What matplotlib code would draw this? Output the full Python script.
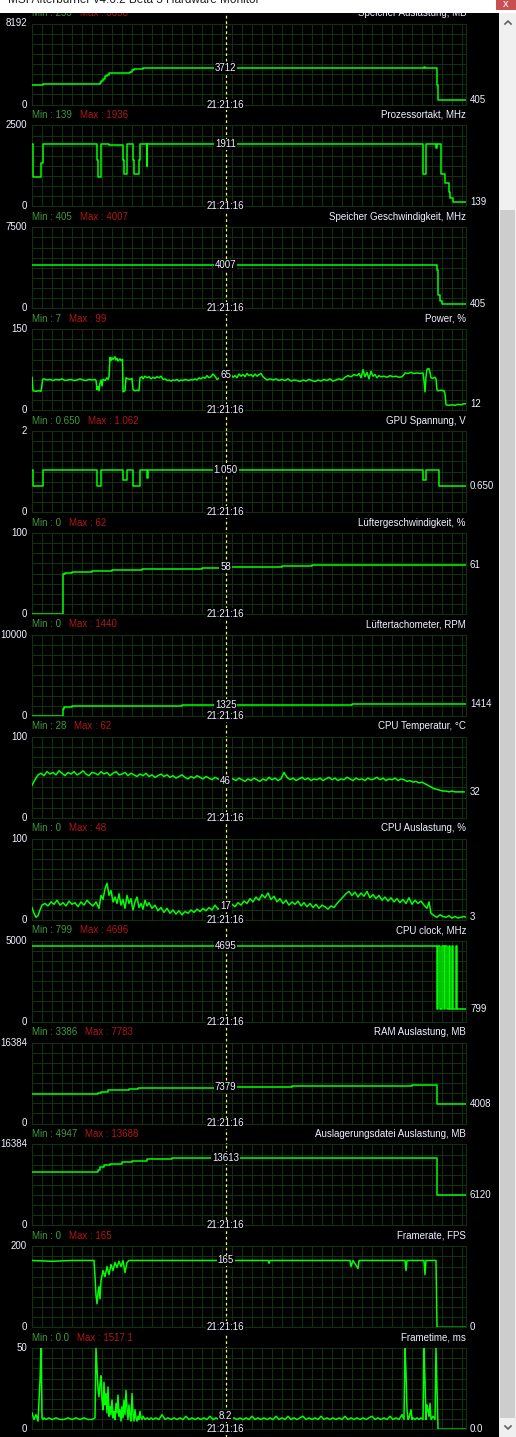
import matplotlib
matplotlib.use("Agg")
import matplotlib.pyplot as plt
import numpy as np
from matplotlib.patches import Rectangle
from matplotlib.lines import Line2D

plt.rcParams['font.family'] = ['Liberation Sans', 'DejaVu Sans']

W, H = 516, 1437

# ---- panel meta data ----
names = ["Speicher Auslastung, MB", "Prozessortakt, MHz", "Speicher Geschwindigkeit, MHz",
         "Power, %", "GPU Spannung, V", "Lüftergeschwindigkeit, %", "Lüftertachometer, RPM",
         "CPU Temperatur, °C", "CPU Auslastung, %", "CPU clock, MHz", "RAM Auslastung, MB",
         "Auslagerungsdatei Auslastung, MB", "Framerate, FPS", "Frametime, ms"]
ymax = [8192, 2500, 7500, 150, 2, 100, 10000, 100, 100, 5000, 16384, 16384, 200, 50]
min_txt = ["233", "139", "405", "7", "0.650", "0", "0", "28", "0", "799", "3386", "4947", "0", "0.0"]
max_txt = ["3838", "1936", "4007", "99", "1.062", "62", "1440", "62", "48", "4696", "7783", "13688", "165", "1517.1"]
cur_txt = ["3712", "1911", "4007", "65", "1.050", "58", "1325", "46", "17", "4695", "7379", "13613", "165", "8.2"]
last_txt = ["405", "139", "405", "12", "0.650", "61", "1414", "32", "3", "799", "4008", "6120", "0", "0.0"]
cursor_t = 193.6
time_txt = "21:21:16"

# ---- series (t = sample index, v = value) ----
mem_t = [0, 11, 68, 69, 71, 73, 75, 77, 96, 98, 100, 102, 106, 111, 361, 363, 392, 393, 405, 406, 434]
mem_v = [1970, 2070, 2150, 2400, 2600, 2850, 3000, 3150, 3200, 3330, 3500, 3600, 3640, 3712, 3660, 3712, 3760, 3712, 2000, 405, 405]

clk_t = [0, 0.5, 1.3, 9.3, 10.7, 28.7, 64.7, 66.3, 69.3, 77, 91.3, 91.7, 94.7, 101.3, 102, 107.3, 108.3,
         114.7, 115.3, 116.3, 391.3, 392.7, 394, 404.3, 405, 408.7, 409.3, 413.3, 416.7, 418, 421, 434]
clk_v = [1936, 1432, 917, 1349, 1936, 1917, 1432, 917, 1917, 1886, 1432, 1000, 1917, 1432, 1000, 1432, 1917,
         1247, 1917, 1917, 1000, 1000, 1917, 1793, 1917, 1432, 1000, 713, 454, 250, 139, 139]

vram_t = [0, 404, 405, 406, 408, 410, 434]
vram_v = [4007, 4007, 3500, 1200, 700, 405, 405]

pwr_t = [0, 1, 4, 7, 9, 10.7, 12, 15, 18, 21, 24, 27, 30, 33, 36, 39, 42, 45, 48, 51, 54, 57, 60, 63, 64, 65, 66,
         67, 68, 69, 70, 71, 73, 75, 76, 77, 78, 79, 80, 81, 83, 84, 85, 86, 88, 89, 90.5, 91, 93, 94, 96, 98, 100,
         101, 103, 105, 107, 108, 110, 111, 113, 115, 117, 119, 121, 123, 125, 127, 129, 131, 133, 135, 137, 139,
         141, 143, 145, 147, 149, 151, 153, 155, 157, 159, 161, 163, 165, 167, 169, 171, 173, 175, 177, 179, 181,
         183, 185, 187, 189, 191, 193, 195, 197, 199, 201, 203, 205, 207, 209, 211, 213, 215, 217, 219, 221, 223,
         225, 227, 229, 231, 233, 235, 238, 241, 244, 247, 250, 253, 256, 259, 262, 265, 268, 271, 274, 277, 280,
         283, 286, 289, 292, 295, 298, 301, 304, 307, 310, 313, 316, 319, 322, 325, 327, 329, 331, 333, 335, 337,
         339, 341, 343, 345, 347, 349, 352, 355, 358, 361, 364, 367, 370, 372, 373, 376, 379, 382, 385, 388, 391,
         392, 393, 394, 395, 397, 398, 399, 401, 403, 404, 405, 406, 409, 412, 413, 414, 417, 420, 423, 426, 429,
         432, 434]
pwr_v = [61, 36, 35, 36, 35, 57, 58, 56, 57, 55, 57, 56, 58, 55, 56, 57, 55, 56, 58, 56, 55, 57, 56, 57, 55, 38, 44,
         36, 50, 56, 45, 57, 55, 60, 57, 62, 98, 92, 97, 94, 99, 93, 96, 91, 95, 92, 94, 34, 36, 60, 58, 57, 59,
         38, 36, 37, 36, 60, 62, 58, 63, 60, 62, 58, 61, 59, 62, 60, 63, 57, 58, 55, 56, 54,
         56, 55, 57, 54, 56, 55, 57, 56, 55, 57, 56, 58, 56, 60, 58, 61, 59, 64, 60, 62, 67,
         63, 57, 59, 64, 62, 65, 63, 60, 66, 61, 64, 60, 67, 63, 66, 62, 68, 64, 66, 62, 67,
         63, 66, 68, 62, 59, 56, 58, 56, 58, 55, 57, 55, 58, 54, 56, 55, 53, 56, 54, 57, 55,
         53, 56, 54, 57, 55, 58, 54, 56, 58, 56, 61, 64, 62, 66, 64, 68, 60, 75, 62, 70, 58,
         72, 63, 66, 60, 64, 62, 63, 61, 64, 62, 63, 61, 62, 66, 69, 68, 70, 68, 69, 68, 69,
         55, 34, 62, 76, 77, 70, 60, 59, 61, 58, 38, 36, 37, 36, 30, 10, 9, 10, 9, 11, 10,
         12, 12]

volt_t = [0, 0.5, 10.7, 64.7, 69.3, 91.3, 94.7, 101.3, 108.3, 114.7, 116.3, 391.3, 394, 407, 434]
volt_v = [1.05, 0.65, 1.05, 0.65, 1.05, 0.8, 1.05, 0.65, 1.05, 0.85, 1.05, 0.8, 1.05, 0.65, 0.65]

fan_t = [0, 30.5, 33, 40, 60, 80, 110, 150, 170, 190, 250, 280, 300, 434]
fan_v = [0, 50, 51, 52, 53, 54, 55, 56, 57, 58, 59, 60, 61, 61]

rpm_t = [0, 30.5, 31.5, 33, 40, 70, 110, 150, 190, 250, 290, 320, 434]
rpm_v = [0, 900, 1100, 1150, 1180, 1230, 1260, 1290, 1325, 1360, 1400, 1414, 1414]

temp_t = list(range(0, 435, 3))
temp_v = [40, 47, 53, 55, 52, 57, 54, 56, 53, 58, 55, 52, 56, 54, 57, 53, 55, 58, 54, 52, 56, 55, 53, 57,
          54, 56, 52, 55, 57, 53, 54, 56, 52, 55, 53, 51, 54, 52, 55, 51, 53, 50, 52, 54, 51, 53, 50, 52,
          49, 51, 53, 50, 48, 51, 49, 52, 50, 48, 51, 49, 47, 50, 48, 46, 49, 47, 50, 48, 46, 49, 47, 45,
          48, 46, 49, 47, 45, 48, 46, 50, 47, 49, 46, 48, 56, 50, 47, 49, 46, 48, 50, 47, 49, 46, 48, 47,
          49, 46, 48, 50, 47, 49, 46, 48, 47, 50, 48, 46, 49, 47, 48, 46, 49, 47, 48, 50, 47, 49, 46, 48,
          47, 49, 46, 48, 47, 45, 46, 44, 45, 43, 44, 42, 40, 38, 36, 35, 34, 33, 33, 32, 33, 32, 32, 32, 32]

cpu_t = [0, 2, 4, 6, 8, 10, 13, 16, 19, 22, 25, 28, 31, 34, 37, 40, 43, 46, 49, 52, 55, 58, 61, 64, 67, 69, 71,
         73, 75, 77, 79, 81, 83, 85, 87, 89, 91, 93, 95, 97, 99, 101, 103, 105, 107, 109, 111, 113, 115, 117,
         120, 123, 126, 129, 132, 135, 138, 141, 144, 147, 150, 153, 156, 159, 162, 165, 168, 171, 174, 177,
         180, 183, 186, 189, 192, 194, 197, 200, 203, 206, 209, 212, 215, 218, 221, 224, 227, 230, 233, 236,
         239, 242, 245, 248, 251, 254, 257, 260, 263, 266, 269, 272, 275, 278, 281, 284, 287, 290, 293, 296,
         299, 302, 305, 308, 311, 314, 317, 320, 323, 326, 329, 332, 335, 338, 341, 344, 347, 350, 353, 356,
         359, 362, 365, 368, 371, 374, 377, 380, 383, 386, 389, 392, 395, 397, 399, 402, 405, 408, 411, 414,
         417, 420, 423, 426, 429, 432, 434]
cpu_v = [15, 8, 3, 5, 12, 18, 20, 17, 22, 19, 24, 18, 21, 17, 23, 19, 21, 16, 22, 18, 24, 20, 17, 22, 14, 30,
         25, 38, 45, 30, 36, 22, 28, 20, 32, 18, 25, 14, 30, 20, 26, 12, 22, 28, 15, 20, 13, 24, 17, 21,
         14, 18, 11, 15, 9, 14, 8, 12, 7, 11, 6, 10, 8, 12, 9, 13, 10, 14, 11, 15,
         12, 18, 13, 16, 15, 17, 14, 19, 16, 21, 18, 23, 20, 26, 22, 28, 24, 31, 27, 33,
         25, 29, 22, 26, 20, 24, 18, 22, 19, 23, 17, 21, 16, 20, 15, 19, 14, 18, 16, 13,
         17, 15, 20, 24, 28, 32, 35, 30, 34, 28, 33, 29, 35, 27, 31, 26, 30, 24, 28, 23,
         27, 22, 26, 21, 25, 20, 27, 19, 24, 20, 23, 18, 14, 22, 8, 5, 3, 6, 4, 3,
         5, 2, 4, 2, 3, 4, 3]

cclk_t = [0, 405, 406, 408, 409, 410, 412, 413, 415, 417, 418, 420, 421, 424, 425, 427, 434]
cclk_v = [4695, 799, 4695, 799, 799, 4695, 799, 4695, 799, 4695, 799, 4695, 799, 4695, 799, 799, 799]

ram_t = [0, 66, 69, 76, 97, 106, 150, 200, 260, 320, 380, 405, 434]
ram_v = [5906, 6169, 6432, 6715, 6917, 7120, 7250, 7379, 7500, 7600, 7700, 4008, 4008]

swap_t = [0, 66, 68, 72, 78, 90, 100, 115, 140, 200, 405, 434]
swap_v = [10900, 11200, 11800, 12188, 12500, 12800, 13100, 13400, 13613, 13688, 6120, 6120]

fps_t = [0, 20, 40, 62, 63, 64, 65, 66, 67, 68, 69, 71, 73, 75, 77, 79, 81, 83, 85, 87, 89, 91, 93, 95, 97,
         100, 236, 237, 238, 318, 319, 320, 321, 326, 327, 328, 373, 374, 375, 392, 393, 394, 404, 405, 434]
fps_v = [165, 163, 165, 165, 125, 80, 58, 85, 100, 70, 115, 140, 125, 150, 130, 155, 140, 160, 148, 163, 150,
         165, 135, 160, 165, 165, 165, 158, 165, 165, 150, 158, 165, 145, 165, 165, 165, 140, 165, 165, 130, 165,
         165, 0, 0]

ft_t = [0, 2, 4, 6, 8, 9, 10, 11, 12, 14, 17, 20, 24, 28, 32, 36, 40, 44, 48, 52, 56, 60, 63, 64, 65, 66, 67,
        68, 69, 70, 71, 72, 73, 74, 75, 76, 77, 78, 79, 80, 81, 82, 83, 84, 85, 86, 87, 88, 89, 90, 91, 92, 93,
        94, 95, 96, 97, 98, 99, 100, 101, 102, 103, 104, 105, 106, 107, 108, 109, 110, 111, 112, 113, 115, 117,
        119, 121, 124, 127, 130, 133, 136, 139, 142, 145, 148, 151, 154, 157, 160, 163, 166, 169, 172, 175, 178,
        181, 184, 187, 190, 193, 196, 199, 202, 205, 208, 211, 214, 217, 220, 223, 226, 229, 232, 235, 238, 241,
        244, 247, 250, 253, 256, 259, 262, 265, 268, 271, 274, 277, 280, 283, 286, 289, 292, 295, 298, 301, 304,
        307, 310, 313, 316, 319, 322, 325, 328, 331, 334, 337, 340, 343, 346, 349, 352, 355, 358, 361, 364, 367,
        370, 372, 373, 374, 375, 376, 377, 379, 380, 381, 383, 385, 387, 389, 391, 392, 393, 394, 395, 396, 397,
        398, 399, 401, 403, 404, 405, 406, 434]
ft_v = [10, 6, 9, 5, 30, 50, 7, 6, 7, 6, 7, 6, 7, 6, 6, 7, 6, 7, 6, 7, 6, 6, 7, 50, 38, 25, 20, 28, 33,
        18, 12, 29, 15, 22, 10, 26, 8, 14, 9, 18, 7, 11, 6, 16, 10, 21, 8, 12, 5, 14, 7, 18, 9, 24, 13,
        6, 15, 8, 5, 22, 10, 5, 12, 7, 5, 8, 6, 11, 7, 6, 8, 7, 6, 7, 6,
        7, 6, 7, 6, 9, 6, 7, 6, 7, 6, 7, 6, 8, 6, 7, 6, 7, 6, 7, 6, 8,
        6, 7, 6, 7, 6, 8, 6, 7, 6, 7, 6, 7, 6, 8, 6, 7, 6, 7, 6, 7, 6,
        8, 6, 7, 6, 8, 6, 7, 6, 7, 8, 6, 7, 6, 7, 6, 8, 6, 7, 6, 7, 6,
        7, 6, 8, 6, 7, 6, 7, 6, 7, 6, 7, 8, 6, 7, 6, 7, 6, 8, 6, 7, 6,
        9, 6, 50, 35, 12, 6, 7, 12, 6, 7, 6, 7, 6, 7, 6, 50, 30, 6, 15, 12, 8, 16,
        6, 8, 6, 50, 25, 0, 0]

series_t = [mem_t, clk_t, vram_t, pwr_t, volt_t, fan_t, rpm_t, temp_t, cpu_t, cclk_t, ram_t, swap_t, fps_t, ft_t]
series_v = [mem_v, clk_v, vram_v, pwr_v, volt_v, fan_v, rpm_v, temp_v, cpu_v, cclk_v, ram_v, swap_v, fps_v, ft_v]
stepped = [True, True, True, False, True, True, True, False, False, True, True, True, False, False]

# ---- style ----
BG = "black"
GRID = "#103010"
LINE = "#00ff00"
TXT = "#eef2ff"
GREEN = "#3f9a3f"
RED = "#b01818"
CURSOR = "#ffff30"
FS = 7

fig = plt.figure(figsize=(W / 100, H / 100), dpi=100, facecolor=BG)

left, width = 32, 434
top0, step, height = 23.5, 101.9, 81

for i in range(len(names)):
    top = top0 + step * i
    ax = fig.add_axes([left / W, 1 - (top + height) / H, width / W, height / H])
    ax.set_facecolor(BG)
    ax.set_xlim(0, width)
    ax.set_ylim(0, ymax[i])
    ax.set_xticks(np.arange(0, width, 10))
    ax.set_yticks(np.linspace(0, ymax[i], 9))
    ax.grid(True, color=GRID, lw=0.8)
    ax.tick_params(length=0, labelbottom=False, labelleft=False)
    for s in ax.spines.values():
        s.set_color(GRID)
        s.set_linewidth(0.8)

    ax.plot(series_t[i], series_v[i], color=LINE, lw=1.1,
            drawstyle="steps-post" if stepped[i] else "default", zorder=3)
    ax.axvline(cursor_t, color=CURSOR, lw=0.9, dashes=(2.2, 2.2), zorder=4)

    box = dict(fc=BG, ec="none", pad=0.6)
    ax.text(-5, ymax[i], str(ymax[i]), ha="right", va="center", color=TXT, fontsize=FS, clip_on=False)
    ax.text(-5, 0, "0", ha="right", va="center", color=TXT, fontsize=FS, clip_on=False)
    ax.text(cursor_t, float(cur_txt[i]), cur_txt[i], ha="center", va="center", color=TXT,
            fontsize=FS, bbox=box, zorder=6, clip_on=False)
    ax.text(cursor_t, 0, time_txt, ha="center", va="center", color=TXT, fontsize=FS,
            bbox=box, zorder=5, clip_on=False)
    ax.text(width + 4, float(last_txt[i]), last_txt[i], ha="left", va="center", color=TXT,
            fontsize=FS, clip_on=False)

    ty = 1 + 10.5 / height
    ax.text(1, ty, names[i], transform=ax.transAxes, ha="right", va="center", color=TXT, fontsize=FS)
    tmin = ax.text(0, ty, "Min : " + min_txt[i], transform=ax.transAxes, ha="left", va="center",
                   color=GREEN, fontsize=FS)
    ax.annotate("Max : " + max_txt[i], xy=(1, 0.5), xycoords=tmin, xytext=(8, 0),
                textcoords="offset pixels", ha="left", va="center", color=RED, fontsize=FS)

# dashed cursor line in the gaps between panels
fig.add_artist(Line2D([(left + cursor_t) / W] * 2, [0, 1], transform=fig.transFigure,
                      color=CURSOR, lw=0.9, dashes=(2.2, 2.2), zorder=-1))

# window chrome: title bar and scroll bar
fig.add_artist(Rectangle((0, 1 - 13 / H), 1, 13 / H, transform=fig.transFigure,
                         fc="white", ec="none", zorder=10))
fig.text(8 / W, 1 - 3 / H, "MSI Afterburner v4.6.2 Beta 3 Hardware Monitor", ha="left",
         va="baseline", color="#202020", fontsize=8.5, zorder=11)
fig.add_artist(Rectangle((496 / W, 1 - 10 / H), 20 / W, 10 / H, transform=fig.transFigure,
                         fc="#c75050", ec="none", zorder=11))
fig.text(506 / W, 1 - 4 / H, "x", ha="center", va="center", color="white", fontsize=8, zorder=12)

fig.add_artist(Rectangle((499 / W, 0), 17 / W, 1 - 13 / H, transform=fig.transFigure,
                         fc="#f0f0f0", ec="none", zorder=10))
fig.add_artist(Rectangle((500 / W, 1 - 1418 / H), 15 / W, (1418 - 210) / H, transform=fig.transFigure,
                         fc="#cdcdcd", ec="none", zorder=11))
fig.add_artist(Line2D([505 / W, 508 / W, 511 / W], [1 - 24 / H, 1 - 21 / H, 1 - 24 / H],
                      transform=fig.transFigure, color="#606060", lw=1.2, zorder=12))
fig.add_artist(Line2D([505 / W, 508 / W, 511 / W], [1 - 1426 / H, 1 - 1429 / H, 1 - 1426 / H],
                      transform=fig.transFigure, color="#606060", lw=1.2, zorder=12))

fig.savefig("out.png", dpi=100, facecolor=BG)
